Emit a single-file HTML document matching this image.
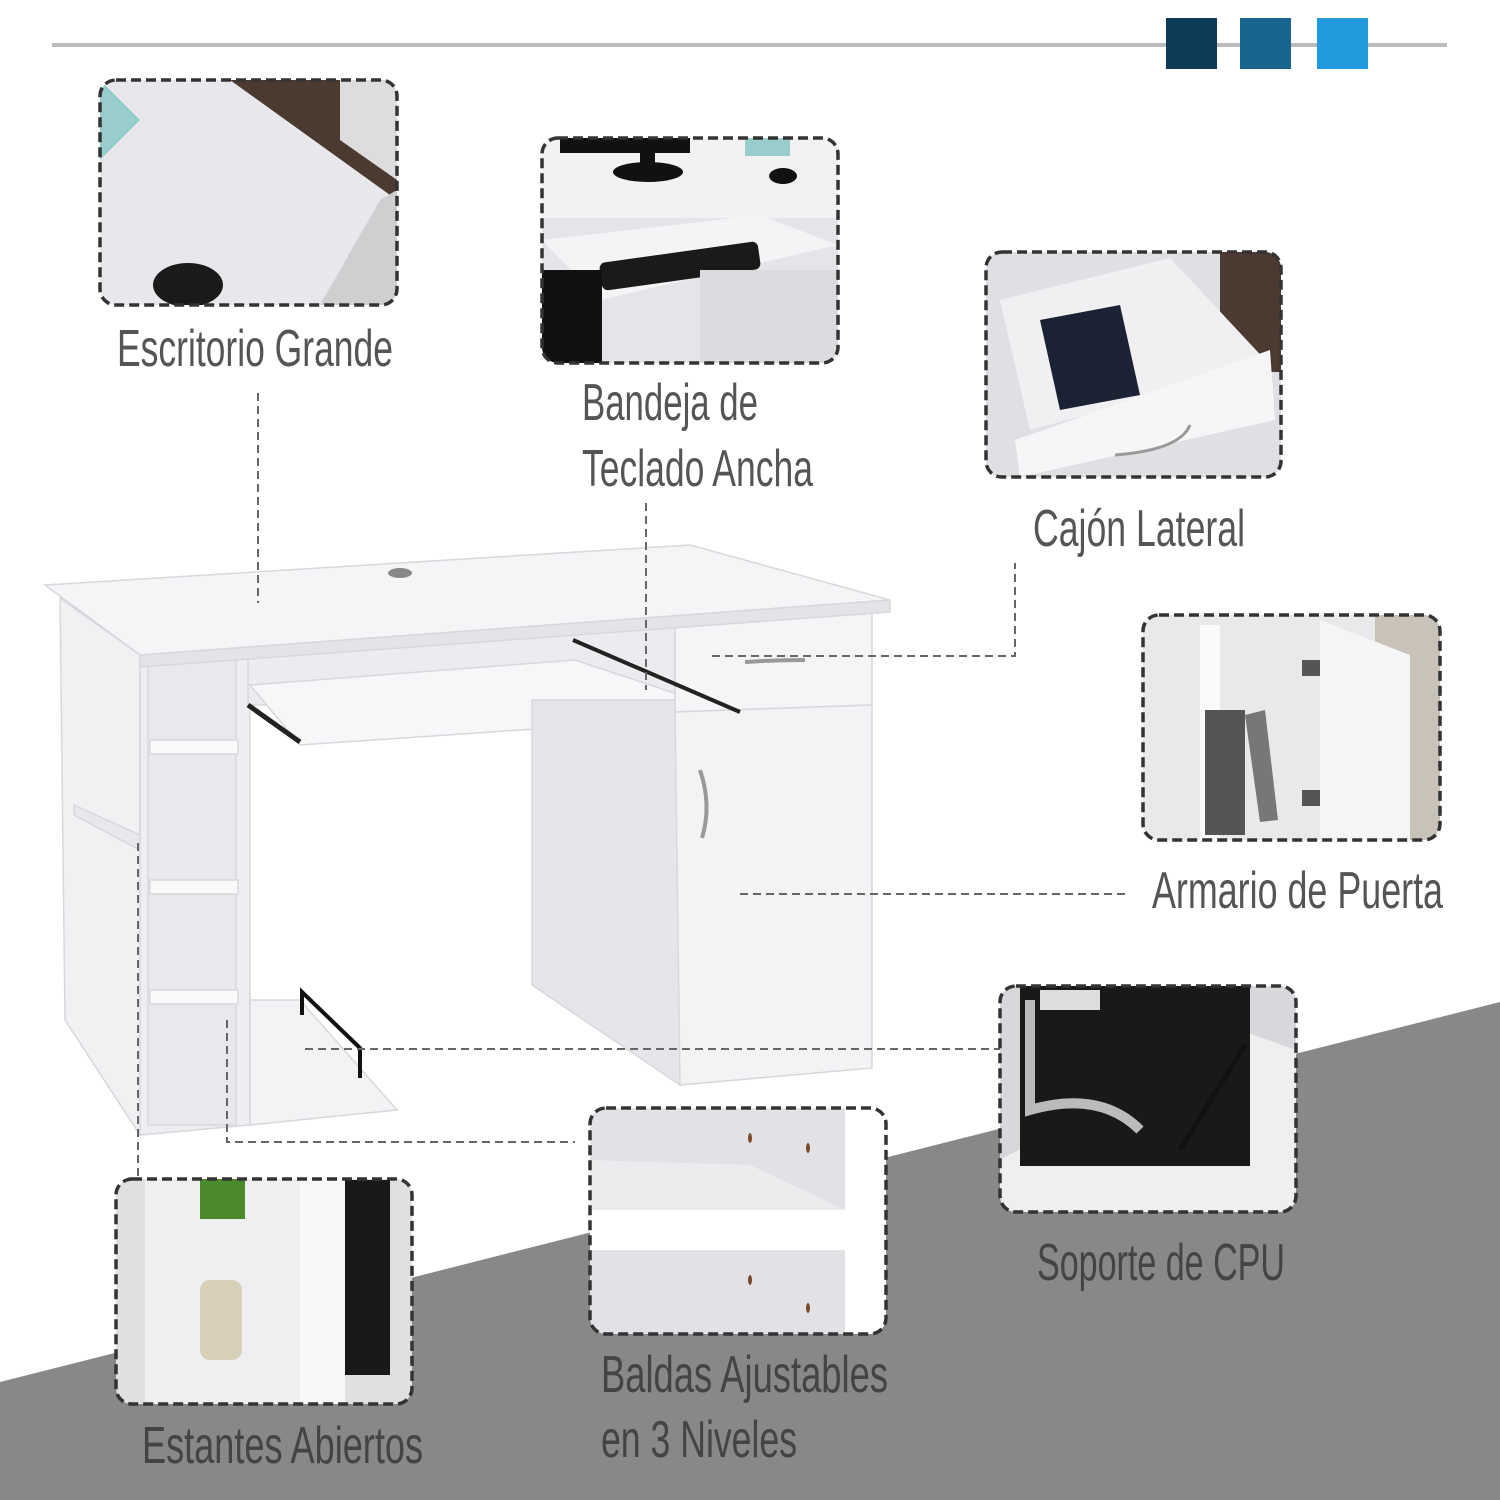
<!DOCTYPE html>
<html><head><meta charset="utf-8"><style>
html,body{margin:0;padding:0;background:#fff;}
svg{display:block}
text{font-family:"Liberation Sans Narrow","Liberation Sans",sans-serif;font-size:52px;fill:#555;}
</style></head><body>
<svg width="1500" height="1500" viewBox="0 0 1500 1500" xmlns="http://www.w3.org/2000/svg">
<defs>
<clipPath id="c1"><rect x="100" y="80" width="297" height="225" rx="16"/></clipPath>
<clipPath id="c2"><rect x="542" y="138" width="296" height="225" rx="16"/></clipPath>
<clipPath id="c3"><rect x="986" y="252" width="295" height="225" rx="16"/></clipPath>
<clipPath id="c4"><rect x="1143" y="615" width="297" height="225" rx="16"/></clipPath>
<clipPath id="c5"><rect x="1000" y="986" width="296" height="226" rx="16"/></clipPath>
<clipPath id="c6"><rect x="590" y="1108" width="296" height="226" rx="16"/></clipPath>
<clipPath id="c7"><rect x="116" y="1179" width="296" height="225" rx="16"/></clipPath>
</defs>
<!-- gray background -->
<polygon points="0,1382 1500,1002 1500,1500 0,1500" fill="#888"/>
<!-- top bar -->
<rect x="52" y="43" width="1395" height="4" fill="#bbb"/>
<rect x="1166" y="18" width="51" height="51" fill="#0d3a56"/>
<rect x="1240" y="18" width="51" height="51" fill="#186590"/>
<rect x="1317" y="18" width="51" height="51" fill="#229ade"/>

<!-- desk -->
<g stroke="#d8d8dc" stroke-width="1.5">
<polygon points="60,598 140,655 140,1135 65,1020" fill="#f1f1f4"/>
<polygon points="74,805 140,835 140,850 74,815" fill="#e8e8ec"/>
<polygon points="140,650 250,645 250,1125 140,1135" fill="#eeeef2"/>
<rect x="148" y="655" width="88" height="470" fill="#e9e9ed"/>
<rect x="150" y="740" width="88" height="14" fill="#fafafa"/>
<rect x="150" y="880" width="88" height="14" fill="#fafafa"/>
<rect x="150" y="990" width="88" height="14" fill="#fafafa"/>
<polygon points="250,1000 300,1000 397,1110 250,1125" fill="#f3f3f5"/>
<polygon points="248,640 675,625 675,705 248,705" fill="#ececf0"/>
<polygon points="250,685 575,660 740,715 300,745" fill="#f7f7f9"/>
<polygon points="532,700 680,700 680,1085 532,985" fill="#e6e6ea"/>
<polygon points="675,615 872,610 872,705 675,712" fill="#f5f5f7"/>
<polygon points="675,712 872,705 872,1068 680,1085" fill="#f3f3f5"/>
<polygon points="45,585 690,545 890,600 140,655" fill="#f5f5f7"/>
<polygon points="140,655 890,600 890,612 140,667" fill="#e4e4e8"/>
</g>
<ellipse cx="400" cy="573" rx="12" ry="5" fill="#888"/>
<path d="M745,662 Q775,660 805,660" stroke="#999" stroke-width="4" fill="none"/>
<path d="M700,770 Q712,805 702,838" stroke="#999" stroke-width="4" fill="none"/>
<path d="M302,1015 L302,992 L360,1048 L360,1078" stroke="#111" stroke-width="4" fill="none"/>
<path d="M248,705 L300,742" stroke="#222" stroke-width="5"/>
<path d="M573,640 L740,712" stroke="#222" stroke-width="4"/>

<!-- dashed connectors -->
<g stroke="#666" stroke-width="2" stroke-dasharray="8,5" fill="none">
<path d="M258,393 V603"/>
<path d="M646,503 V690"/>
<path d="M712,656 H1015 V563"/>
<path d="M740,894 H1130"/>
<path d="M305,1049 H1000"/>
<path d="M138,843 V1180"/>
<path d="M227,1020 V1142 H575"/>
</g>

<!-- photo 1 -->
<g clip-path="url(#c1)">
<rect x="100" y="80" width="297" height="225" fill="#e8e8ec"/>
<polygon points="230,80 397,80 397,200" fill="#4a3a30"/>
<polygon points="340,80 397,80 397,180 340,140" fill="#ddd"/>
<polygon points="380,200 397,190 397,305 320,305" fill="#cfcfd2"/>
<polygon points="100,80 140,120 100,160" fill="#9cc"/>
<ellipse cx="188" cy="285" rx="35" ry="22" fill="#1a1a1a"/>
</g>
<!-- photo 2 -->
<g clip-path="url(#c2)">
<rect x="542" y="138" width="296" height="225" fill="#e5e5e9"/>
<rect x="542" y="138" width="296" height="80" fill="#f2f2f4"/>
<rect x="560" y="138" width="130" height="15" fill="#111"/>
<ellipse cx="648" cy="172" rx="35" ry="10" fill="#111"/>
<rect x="640" y="150" width="15" height="20" fill="#111"/>
<ellipse cx="783" cy="176" rx="14" ry="8" fill="#111"/>
<rect x="745" y="138" width="45" height="18" fill="#9cc"/>
<polygon points="542,240 760,215 838,245 600,300" fill="#f4f4f6"/>
<rect x="600" y="252" width="160" height="28" rx="6" fill="#1a1a1a" transform="rotate(-8 680 266)"/>
<rect x="542" y="270" width="60" height="93" fill="#111"/>
<rect x="700" y="270" width="138" height="93" fill="#dcdce0"/>
</g>
<!-- photo 3 -->
<g clip-path="url(#c3)">
<rect x="986" y="252" width="295" height="225" fill="#e0e0e4"/>
<rect x="1220" y="252" width="61" height="120" fill="#4a3a30"/>
<polygon points="1000,300 1170,258 1270,365 1030,430" fill="#f0f0f2"/>
<polygon points="1040,320 1120,305 1140,395 1060,410" fill="#1b2233"/>
<polygon points="1015,440 1270,350 1275,420 1020,477" fill="#f6f6f8"/>
<path d="M1115,455 Q1180,450 1190,425" stroke="#999" stroke-width="3" fill="none"/>
</g>
<!-- photo 4 -->
<g clip-path="url(#c4)">
<rect x="1143" y="615" width="297" height="225" fill="#e9e9ec"/>
<rect x="1375" y="615" width="65" height="225" fill="#c9c2b8"/>
<rect x="1200" y="625" width="20" height="215" fill="#fafafa"/>
<polygon points="1320,620 1410,655 1410,840 1320,840" fill="#f5f5f7"/>
<rect x="1205" y="710" width="40" height="125" fill="#555"/>
<polygon points="1245,715 1265,710 1278,820 1260,822" fill="#777"/>
<rect x="1302" y="660" width="18" height="16" fill="#555"/>
<rect x="1302" y="790" width="18" height="16" fill="#555"/>
</g>
<!-- photo 5 -->
<g clip-path="url(#c5)">
<rect x="1000" y="986" width="296" height="226" fill="#d8d8dc"/>
<polygon points="1000,1160 1240,1030 1296,1050 1296,1212 1000,1212" fill="#efefef"/>
<rect x="1020" y="986" width="230" height="180" fill="#191919"/>
<rect x="1040" y="990" width="60" height="20" fill="#ddd"/>
<path d="M1030,1000 L1030,1110 Q1100,1090 1140,1130" stroke="#bbb" stroke-width="10" fill="none"/>
<path d="M1180,1150 L1245,1045" stroke="#111" stroke-width="5"/>
</g>
<!-- photo 6 -->
<g clip-path="url(#c6)">
<rect x="590" y="1108" width="296" height="226" fill="#e2e2e6"/>
<polygon points="590,1160 750,1165 845,1210 590,1210" fill="#ececef"/>
<rect x="590" y="1210" width="255" height="40" fill="#fff"/>
<rect x="845" y="1108" width="41" height="226" fill="#fff"/>
<ellipse cx="750" cy="1138" rx="2" ry="5" fill="#7a4a2a"/>
<ellipse cx="808" cy="1148" rx="2" ry="5" fill="#7a4a2a"/>
<ellipse cx="750" cy="1280" rx="2" ry="5" fill="#7a4a2a"/>
<ellipse cx="808" cy="1308" rx="2" ry="5" fill="#7a4a2a"/>
</g>
<!-- photo 7 -->
<g clip-path="url(#c7)">
<rect x="116" y="1179" width="296" height="225" fill="#e0e0e3"/>
<rect x="145" y="1179" width="155" height="225" fill="#efeff2"/>
<rect x="300" y="1179" width="45" height="225" fill="#f8f8f8"/>
<rect x="345" y="1180" width="45" height="195" fill="#191919"/>
<rect x="200" y="1179" width="45" height="40" fill="#4a8a2a"/>
<rect x="200" y="1280" width="42" height="80" rx="10" fill="#d8cfb8"/>
</g>
<!-- dashed borders -->
<g fill="none" stroke="#333" stroke-width="3.5" stroke-dasharray="10,5">
<rect x="100" y="80" width="297" height="225" rx="16"/>
<rect x="542" y="138" width="296" height="225" rx="16"/>
<rect x="986" y="252" width="295" height="225" rx="16"/>
<rect x="1143" y="615" width="297" height="225" rx="16"/>
<rect x="1000" y="986" width="296" height="226" rx="16"/>
<rect x="590" y="1108" width="296" height="226" rx="16"/>
<rect x="116" y="1179" width="296" height="225" rx="16"/>
</g>

<!-- labels -->
<text x="117" y="366" textLength="276" lengthAdjust="spacingAndGlyphs">Escritorio Grande</text>
<text x="582" y="420" textLength="176" lengthAdjust="spacingAndGlyphs">Bandeja de</text>
<text x="582" y="486" textLength="231" lengthAdjust="spacingAndGlyphs">Teclado Ancha</text>
<text x="1033" y="546" textLength="212" lengthAdjust="spacingAndGlyphs">Cajón Lateral</text>
<text x="1152" y="908" textLength="291" lengthAdjust="spacingAndGlyphs">Armario de Puerta</text>
<text x="1037" y="1280" textLength="248" lengthAdjust="spacingAndGlyphs" style="fill:#444">Soporte de CPU</text>
<text x="601" y="1392" textLength="287" lengthAdjust="spacingAndGlyphs" style="fill:#444">Baldas Ajustables</text>
<text x="601" y="1457" textLength="196" lengthAdjust="spacingAndGlyphs" style="fill:#444">en 3 Niveles</text>
<text x="142" y="1463" textLength="281" lengthAdjust="spacingAndGlyphs" style="fill:#444">Estantes Abiertos</text>
</svg>
</body></html>
